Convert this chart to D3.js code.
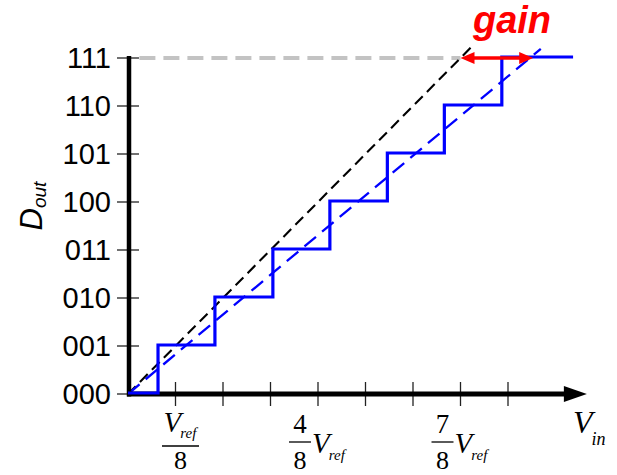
<!DOCTYPE html>
<html>
<head>
<meta charset="utf-8">
<script src="https://cdn.jsdelivr.net/npm/d3@7"></script>
<style>
  html, body { margin: 0; padding: 0; background: #fff; }
  svg { display: block; }
</style>
</head>
<body>
<svg id="chart" width="617" height="475"></svg>
<script>
// ---- data (x in units of Vref/8, y in output codes) ----
const codes = ["000", "001", "010", "011", "100", "101", "110", "111"];
const codeValues = [0, 1, 2, 3, 4, 5, 6, 7];
const xTickValues = [1, 2, 3, 4, 5, 6, 7, 8];
const transitions = [0.632, 1.83, 3.05, 4.25, 5.46, 6.66, 7.87]; // code k -> k+1 thresholds
const stairEnd = 9.37;
const idealLine = [[0, 0], [7.3, 7.3]];
const gainLine = [[0, 0], [8.69, 7.19]];
const fullScaleLine = [[0.24, 7], [7.0, 7]];
const gainArrow = [7.0, 8.53];
const xAxisEnd = 9.66;

const svg = d3.select("#chart");
const x = d3.scaleLinear().domain([0, 8]).range([128, 508]);
const y = d3.scaleLinear().domain([0, 7]).range([394, 58]);
const line = d3.line().x(d => x(d[0])).y(d => y(d[1]));

// full-scale gray dashed line
svg.append("path").attr("d", line(fullScaleLine))
  .attr("fill", "none").attr("stroke", "#c3c3c3").attr("stroke-width", 4)
  .attr("stroke-dasharray", "16,8");

// ideal transfer (black dashed)
svg.append("path").attr("d", line(idealLine))
  .attr("fill", "none").attr("stroke", "#000").attr("stroke-width", 2.1)
  .attr("stroke-dasharray", "11,6");

// transfer with gain error (blue dashed)
svg.append("path").attr("d", line(gainLine))
  .attr("fill", "none").attr("stroke", "#0000ff").attr("stroke-width", 2.3)
  .attr("stroke-dasharray", "15,8");

// y axis ticks and labels
svg.append("g").selectAll("line").data(codeValues).join("line")
  .attr("x1", 117).attr("x2", 139)
  .attr("y1", d => y(d)).attr("y2", d => y(d))
  .attr("stroke", "#222").attr("stroke-width", 1.3);
svg.append("g").selectAll("text").data(codeValues).join("text")
  .attr("x", 111).attr("y", d => y(d))
  .attr("text-anchor", "end").attr("dominant-baseline", "central")
  .attr("font-family", "Liberation Sans, Arial, sans-serif").attr("font-size", 29)
  .attr("fill", "#000")
  .text(d => codes[d]);

// x axis ticks
svg.append("g").selectAll("line").data(xTickValues).join("line")
  .attr("x1", d => x(d)).attr("x2", d => x(d))
  .attr("y1", 382).attr("y2", 406)
  .attr("stroke", "#222").attr("stroke-width", 1.3);

// axes
svg.append("line").attr("x1", x(0) + 1).attr("x2", x(0) + 1)
  .attr("y1", y(7) - 2).attr("y2", y(0) + 2.5)
  .attr("stroke", "#000").attr("stroke-width", 4.5);
svg.append("line").attr("x1", x(0) - 1).attr("x2", x(xAxisEnd) - 20)
  .attr("y1", y(0)).attr("y2", y(0))
  .attr("stroke", "#000").attr("stroke-width", 5);
svg.append("path")
  .attr("d", `M${x(xAxisEnd) - 23},${y(0) - 8} L${x(xAxisEnd)},${y(0)} L${x(xAxisEnd) - 23},${y(0) + 8} Z`)
  .attr("fill", "#000");

// staircase
const stairPts = [[0, 0]].concat(transitions.map((t, i) => [t, i + 1])).concat([[stairEnd, 7]]);
svg.append("path")
  .attr("d", d3.line().x(d => x(d[0])).y(d => y(d[1])).curve(d3.curveStepAfter)(stairPts))
  .attr("fill", "none").attr("stroke", "#0000ff").attr("stroke-width", 3.2)
  .attr("transform", "translate(0,-1)");

// gain arrow
const ax1 = x(gainArrow[0]), ax2 = x(gainArrow[1]), ay = y(7);
svg.append("line").attr("x1", ax1 + 8).attr("x2", ax2 - 8).attr("y1", ay).attr("y2", ay)
  .attr("stroke", "#ff0000").attr("stroke-width", 3.5);
svg.append("path").attr("d", `M${ax1},${ay} L${ax1 + 14},${ay - 6} L${ax1 + 14},${ay + 6} Z`).attr("fill", "#ff0000");
svg.append("path").attr("d", `M${ax2},${ay} L${ax2 - 14},${ay - 6} L${ax2 - 14},${ay + 6} Z`).attr("fill", "#ff0000");
svg.append("text").attr("x", 512).attr("y", 33)
  .attr("text-anchor", "middle")
  .attr("font-family", "Liberation Sans, Arial, sans-serif")
  .attr("font-size", 38).attr("font-weight", "bold").attr("font-style", "italic")
  .attr("fill", "#ff0000").text("gain");

// y axis title D_out
const yt = svg.append("text").attr("transform", "translate(42,206) rotate(-90)")
  .attr("text-anchor", "middle")
  .attr("font-family", "Liberation Sans, Arial, sans-serif").attr("font-style", "italic")
  .attr("fill", "#000");
yt.append("tspan").attr("font-size", 31).text("D");
yt.append("tspan").attr("font-size", 19).attr("dy", 4).text("out");

// x labels
const serif = "Liberation Serif, Times New Roman, serif";
function vref(g, vx, vy, vs, rs, rdy) {
  const t = g.append("text").attr("x", vx).attr("y", vy).attr("font-family", serif)
    .attr("font-style", "italic").attr("fill", "#000");
  t.append("tspan").attr("font-size", vs).text("V");
  t.append("tspan").attr("font-size", rs).attr("dx", -1).attr("dy", rdy).text("ref");
}
const lab = svg.append("g");
// Vref / 8
{
  const cx = x(1) + 5;
  vref(lab, cx - 17, 432, 29, 15, 6);
  lab.append("line").attr("x1", cx - 18.5).attr("x2", cx + 18.5).attr("y1", 446).attr("y2", 446)
    .attr("stroke", "#000").attr("stroke-width", 1.3);
  lab.append("text").attr("x", cx).attr("y", 469).attr("text-anchor", "middle")
    .attr("font-family", serif).attr("font-size", 26).text("8");
}
// n/8 Vref
[[4, "4"], [7, "7"]].forEach(([v, num]) => {
  const cx = x(v) - 18;
  lab.append("text").attr("x", cx).attr("y", 433).attr("text-anchor", "middle")
    .attr("font-family", serif).attr("font-size", 27).text(num);
  lab.append("line").attr("x1", cx - 11).attr("x2", cx + 11).attr("y1", 442).attr("y2", 442)
    .attr("stroke", "#000").attr("stroke-width", 1.3);
  lab.append("text").attr("x", cx).attr("y", 469).attr("text-anchor", "middle")
    .attr("font-family", serif).attr("font-size", 26).text("8");
  vref(lab, cx + 12, 453, 29, 15, 7);
});
// V_in
{
  const t = svg.append("text").attr("x", 573).attr("y", 433).attr("font-family", serif)
    .attr("font-style", "italic").attr("fill", "#000");
  t.append("tspan").attr("font-size", 32).text("V");
  t.append("tspan").attr("font-size", 18).attr("dx", -1).attr("dy", 12).text("in");
}
</script>
</body>
</html>
